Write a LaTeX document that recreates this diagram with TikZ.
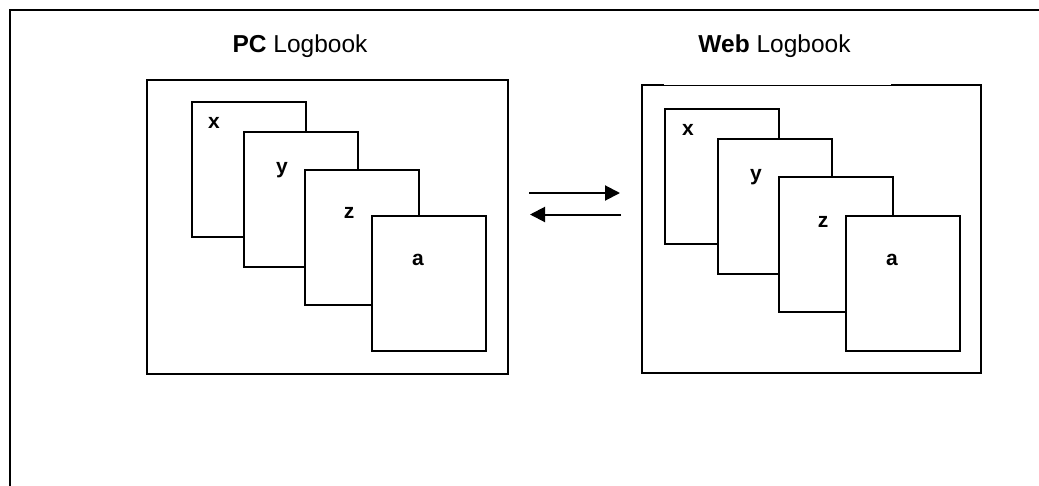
\documentclass[tikz,border=0pt]{standalone}
\usepackage{fontspec}
\setmainfont{Liberation Sans}
\usetikzlibrary{arrows.meta}
\tikzset{
  box/.style={draw, line width=2pt, inner sep=0pt, anchor=north west},
  card/.style={draw, fill=white, line width=2pt, inner sep=0pt, anchor=north west, minimum width=113.5pt, minimum height=135pt},
  lab/.style={font=\fontsize{21}{25}\selectfont\bfseries, inner sep=0pt},
  ttl/.style={font=\fontsize{24.5}{29}\selectfont, inner sep=0pt, anchor=base},
  arr/.style={line width=2pt, -{Triangle[length=15pt, width=15pt]}}
}
\begin{document}
\begin{tikzpicture}[x=1pt, y=-1pt]
\useasboundingbox (0,0) rectangle (1039,485);
% outer frame
\coordinate (fb) at (10,486);
\coordinate (ftl) at (10,10);
\coordinate (fr) at (1040,10);
\draw[line width=2.2pt] (fb) -- (ftl) -- (fr);
% titles
\node[ttl] (pct) at (300,52) {\textbf{PC} Logbook};
\node[ttl] (webt) at (774.5,52) {\textbf{Web} Logbook};
% PC logbook
\node[box, minimum width=361pt, minimum height=294pt] (pcb) at (146,79) {};
\node[card] (pcx) at (191,101) {};
\node[card] (pcy) at (243,131) {};
\node[card] (pcz) at (304,169) {};
\node[card] (pca) at (371,215) {};
\node[lab] (pcxl) at (214,123) {x};
\node[lab] (pcyl) at (282,170) {y};
\node[lab] (pczl) at (349,213) {z};
\node[lab] (pcal) at (418,260) {a};
% Web logbook
\node[inner sep=0pt, anchor=north west, minimum width=339pt, minimum height=288pt] (wbb) at (642,85) {};
\draw[line width=2pt] ([xshift=22pt]wbb.north west) -- (wbb.north west) -- (wbb.south west) -- (wbb.south east) -- (wbb.north east) -- ([xshift=-90pt]wbb.north east);
\draw[line width=1pt] ([xshift=22pt]wbb.north west) -- ([xshift=-90pt]wbb.north east);
\node[card] (wbx) at (664,108) {};
\node[card] (wby) at (717,138) {};
\node[card] (wbz) at (778,176) {};
\node[card] (wba) at (845,215) {};
\node[lab] (wbxl) at (688,130) {x};
\node[lab] (wbyl) at (756,177) {y};
\node[lab] (wbzl) at (823,222) {z};
\node[lab] (wbal) at (892,260) {a};
% arrows
\coordinate (r1) at (529,193);
\coordinate (r2) at (620,193);
\coordinate (l1) at (621,214.5);
\coordinate (l2) at (530,214.5);
\draw[arr] (r1) -- (r2);
\draw[arr] (l1) -- (l2);
\end{tikzpicture}
\end{document}
